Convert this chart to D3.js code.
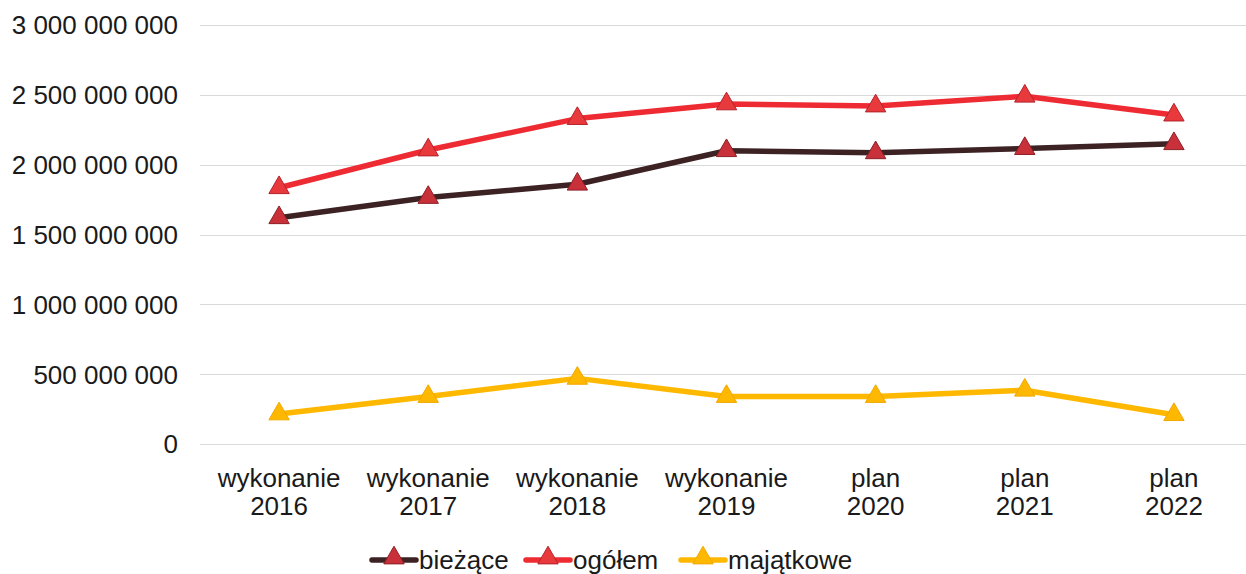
<!DOCTYPE html>
<html>
<head>
<meta charset="utf-8">
<script src="https://cdn.jsdelivr.net/npm/d3@7"></script>
<style>
  body { margin: 0; background: #fff; }
  svg { display: block; font-family: "Liberation Sans", Arial, sans-serif; }
</style>
</head>
<body>
<svg id="chart" width="1246" height="574"></svg>
<script>
// data
var categories = [["wykonanie", "2016"], ["wykonanie", "2017"], ["wykonanie", "2018"], ["wykonanie", "2019"],
                  ["plan", "2020"], ["plan", "2021"], ["plan", "2022"]];
var biezace = [1620000000, 1765000000, 1860000000, 2100000000, 2085000000, 2115000000, 2150000000];
var ogolem = [1835000000, 2105000000, 2330000000, 2435000000, 2420000000, 2490000000, 2355000000];
var majatkowe = [215000000, 340000000, 470000000, 340000000, 340000000, 385000000, 210000000];
var yTicks = [0, 500000000, 1000000000, 1500000000, 2000000000, 2500000000, 3000000000];

var series = [
  {name: "bieżące", values: biezace, line: "#3d2224", marker: "#c8303a", edge: "#8e1f26"},
  {name: "ogółem", values: ogolem, line: "#ee2b33", marker: "#e8393d", edge: "#b4222a"},
  {name: "majątkowe", values: majatkowe, line: "#ffb800", marker: "#ffb800", edge: "#f0a800"}
];

var svg = d3.select("#chart");

var x = d3.scaleBand().domain(d3.range(categories.length)).range([204.5, 1248.5]);
var y = d3.scaleLinear().domain([0, 3000000000]).range([444, 25]);

var fmt = function (d) { return d3.format(",")(d).replace(/,/g, " "); };

// gridlines
svg.append("g").selectAll("line").data(yTicks).enter()
  .append("line")
  .attr("x1", 200).attr("x2", 1246)
  .attr("y1", function (d) { return Math.round(y(d)) + 0.5; })
  .attr("y2", function (d) { return Math.round(y(d)) + 0.5; })
  .attr("stroke", "#d9d9d9").attr("stroke-width", 1);

// y labels
svg.append("g").selectAll("text").data(yTicks).enter()
  .append("text")
  .attr("x", 178).attr("y", function (d) { return y(d); })
  .attr("dy", "0.36em")
  .attr("text-anchor", "end")
  .attr("font-size", 26).attr("fill", "#1a1a1a")
  .text(fmt);

// x labels
var xl = svg.append("g").selectAll("text").data(categories).enter()
  .append("text")
  .attr("text-anchor", "middle")
  .attr("font-size", 26).attr("fill", "#1a1a1a");
xl.append("tspan")
  .attr("x", function (d, i) { return x(i) + x.bandwidth() / 2; })
  .attr("y", 487)
  .text(function (d) { return d[0]; });
xl.append("tspan")
  .attr("x", function (d, i) { return x(i) + x.bandwidth() / 2; })
  .attr("y", 515)
  .text(function (d) { return d[1]; });

var tri = d3.symbol().type(d3.symbolTriangle).size(180);

var line = d3.line()
  .x(function (d, i) { return x(i) + x.bandwidth() / 2; })
  .y(function (d) { return y(d); });

// draw majątkowe first, then bieżące, ogółem on top
[series[2], series[0], series[1]].forEach(function (s) {
  var g = svg.append("g");
  g.append("path")
    .datum(s.values)
    .attr("d", line)
    .attr("fill", "none")
    .attr("stroke", s.line)
    .attr("stroke-width", 5.5)
    .attr("stroke-linejoin", "round");
  g.selectAll("path.m").data(s.values).enter()
    .append("path").attr("class", "m")
    .attr("d", tri)
    .attr("transform", function (d, i) {
      return "translate(" + (x(i) + x.bandwidth() / 2) + "," + y(d) + ")";
    })
    .attr("fill", s.marker)
    .attr("stroke", s.edge).attr("stroke-width", 1);
});

// legend
var legendX = [370, 524, 679];
var leg = svg.append("g").selectAll("g").data(series).enter()
  .append("g")
  .attr("transform", function (d, i) { return "translate(" + legendX[i] + ",560)"; });
leg.append("line")
  .attr("x1", 2).attr("x2", 46).attr("y1", 0).attr("y2", 0)
  .attr("stroke", function (d) { return d.line; })
  .attr("stroke-width", 5.5).attr("stroke-linecap", "round");
leg.append("path")
  .attr("d", tri)
  .attr("transform", "translate(24,-2)")
  .attr("fill", function (d) { return d.marker; })
  .attr("stroke", function (d) { return d.edge; }).attr("stroke-width", 1);
leg.append("text")
  .attr("x", 49).attr("y", 0).attr("dy", "0.36em")
  .attr("font-size", 26).attr("fill", "#1a1a1a")
  .text(function (d) { return d.name; });
</script>
</body>
</html>
